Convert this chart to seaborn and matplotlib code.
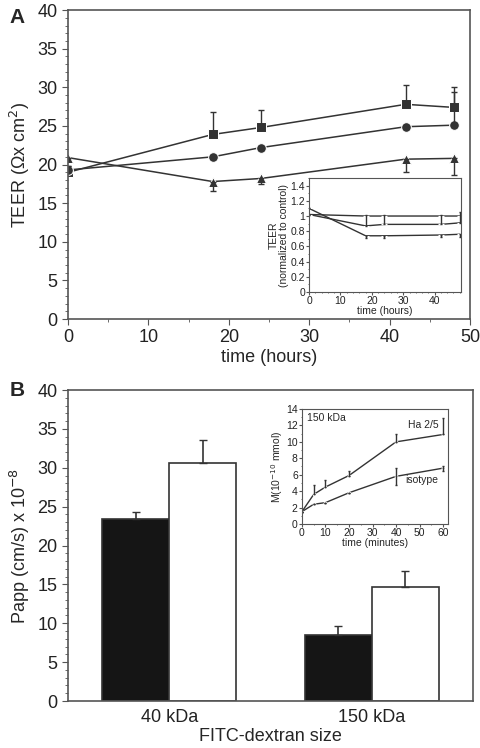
import numpy as np
import pandas as pd
import matplotlib
matplotlib.use("Agg")
import matplotlib.pyplot as plt
from matplotlib.ticker import MultipleLocator
import seaborn as sns

# ---- panel A: TEER over time
hours = [0, 18, 24, 42, 48]
teer_square = [19.0, 23.9, 24.8, 27.8, 27.4]
teer_square_err = [0.8, 2.9, 2.2, 2.5, 2.7]
teer_circle = [19.3, 21.0, 22.2, 24.9, 25.1]
teer_circle_err = [0.5, 0.0, 0.0, 0.0, 4.3]
teer_triangle = [20.9, 17.8, 18.2, 20.7, 20.8]
teer_triangle_err = [0.0, 1.2, 0.7, 1.7, 2.1]

# inset A: normalized TEER
norm_ctrl = [1.02, 1.0, 1.0, 1.0, 1.0]
norm_mid = [1.02, 0.87, 0.89, 0.89, 0.91]
norm_mid_err = [0.0, 0.14, 0.12, 0.12, 0.14]
norm_low = [1.1, 0.74, 0.74, 0.75, 0.76]
norm_low_err = [0.0, 0.03, 0.03, 0.03, 0.03]

# ---- panel B: permeability
sizes = ["40 kDa", "150 kDa"]
papp_black = [23.4, 8.5]
papp_black_err = [0.9, 1.2]
papp_white = [30.6, 14.7]
papp_white_err = [3.0, 2.0]

# inset B: cumulative mass
minutes = [0, 5, 10, 20, 40, 60]
mass_ha = [1.5, 3.6, 4.5, 5.9, 10.0, 10.9]
mass_ha_err = [0.0, 1.1, 0.8, 0.6, 1.0, 2.0]
mass_iso = [1.5, 2.4, 2.6, 3.8, 5.8, 6.8]
mass_iso_err = [0.0, 0.0, 0.0, 0.0, 1.0, 0.3]

sns.set_style("ticks")
plt.rcParams["font.family"] = ["Liberation Sans", "DejaVu Sans"]
plt.rcParams["axes.edgecolor"] = "#555555"
plt.rcParams["xtick.color"] = "#555555"
plt.rcParams["ytick.color"] = "#555555"
plt.rcParams["xtick.labelcolor"] = "#222222"
plt.rcParams["ytick.labelcolor"] = "#222222"

fig = plt.figure(figsize=(4.8, 7.48), dpi=100)
lc = "#333333"

# ================= A main
axA = fig.add_axes([0.1417, 0.5735, 0.8375, 0.413])
dfA = pd.DataFrame({
    "hours": hours * 3,
    "teer": teer_square + teer_circle + teer_triangle,
    "grp": ["sq"] * 5 + ["ci"] * 5 + ["tr"] * 5,
})
sns.lineplot(data=dfA, x="hours", y="teer", style="grp", markers={"sq": "s", "ci": "o", "tr": "^"},
             dashes=False, color=lc, markersize=7, linewidth=1.1, legend=False, ax=axA)
for y, e in [(teer_square, teer_square_err), (teer_circle, teer_circle_err)]:
    axA.errorbar(hours, y, yerr=[np.zeros(5), e], fmt="none", ecolor=lc, elinewidth=1, capsize=2.5)
axA.errorbar(hours, teer_triangle, yerr=[teer_triangle_err, np.zeros(5)], fmt="none",
             ecolor=lc, elinewidth=1, capsize=2.5)
axA.set_xlim(0, 50)
axA.set_ylim(0, 40)
axA.xaxis.set_major_locator(MultipleLocator(10))
axA.xaxis.set_minor_locator(MultipleLocator(5))
axA.yaxis.set_major_locator(MultipleLocator(5))
axA.yaxis.set_minor_locator(MultipleLocator(1))
axA.tick_params(labelsize=13, length=4)
axA.tick_params(which="minor", length=2)
axA.set_xlabel("time (hours)", fontsize=13, labelpad=2)
axA.set_ylabel("TEER (\u03a9x cm$^2$)", fontsize=13)
for s in axA.spines.values():
    s.set_linewidth(1.2)
fig.text(0.02, 0.977, "A", fontsize=15, fontweight="bold", ha="left", va="center")

# ================= A inset
axAi = fig.add_axes([0.644, 0.6096, 0.317, 0.1524])
dfAi = pd.DataFrame({
    "hours": hours * 3,
    "norm": norm_ctrl + norm_mid + norm_low,
    "grp": ["c"] * 5 + ["m"] * 5 + ["l"] * 5,
})
sns.lineplot(data=dfAi, x="hours", y="norm", units="grp", estimator=None, color=lc,
             marker="_", markersize=4, linewidth=1.0, ax=axAi)
axAi.errorbar(hours, norm_mid, yerr=[np.zeros(5), norm_mid_err], fmt="none", ecolor=lc, elinewidth=1, capsize=1)
axAi.errorbar(hours, norm_low, yerr=[norm_low_err, np.zeros(5)], fmt="none", ecolor=lc, elinewidth=1, capsize=1)
axAi.set_xlim(0, 48.5)
axAi.set_ylim(0, 1.5)
axAi.set_xticks([0, 10, 20, 30, 40])
axAi.set_yticks([0, 0.2, 0.4, 0.6, 0.8, 1, 1.2, 1.4])
axAi.set_yticklabels(["0", "0.2", "0.4", "0.6", "0.8", "1", "1.2", "1.4"])
axAi.xaxis.set_minor_locator(MultipleLocator(2))
axAi.yaxis.set_minor_locator(MultipleLocator(0.1))
axAi.tick_params(labelsize=7.5, length=2, pad=1)
axAi.tick_params(which="minor", length=1)
axAi.set_xlabel("time (hours)", fontsize=7.5, labelpad=0)
axAi.set_ylabel("TEER\n(normalized to control)", fontsize=7.5, labelpad=1, linespacing=1.0)

# ================= B main
axB = fig.add_axes([0.1417, 0.0628, 0.844, 0.4158])
dfB = pd.DataFrame({
    "size": sizes * 2,
    "papp": papp_black + papp_white,
    "trt": ["black"] * 2 + ["white"] * 2,
})
sns.barplot(data=dfB, x="size", y="papp", hue="trt", palette={"black": "#151515", "white": "white"},
            width=0.66, edgecolor="#333333", linewidth=1.2, legend=False, ax=axB)
errs = papp_black_err + papp_white_err
vals = papp_black + papp_white
for p, v, e in zip(axB.patches, vals, errs):
    cx = p.get_x() + p.get_width() / 2
    axB.errorbar([cx], [v], yerr=[[0], [e]], fmt="none", ecolor=lc, elinewidth=1.2, capsize=3)
axB.set_xlim(-0.5, 1.5)
axB.set_ylim(0, 40)
axB.yaxis.set_major_locator(MultipleLocator(5))
axB.yaxis.set_minor_locator(MultipleLocator(1))
axB.tick_params(labelsize=13, length=4)
axB.tick_params(which="minor", length=2)
axB.tick_params(axis="x", length=0, pad=6)
axB.set_xlabel("FITC-dextran size", fontsize=13, labelpad=1)
axB.set_ylabel("Papp (cm/s) x 10$^{-8}$", fontsize=13)
for s in axB.spines.values():
    s.set_linewidth(1.2)
fig.text(0.02, 0.478, "B", fontsize=15, fontweight="bold", ha="left", va="center")

# ================= B inset
axBi = fig.add_axes([0.629, 0.2995, 0.304, 0.1537])
dfBi = pd.DataFrame({
    "minutes": minutes * 2,
    "mass": mass_ha + mass_iso,
    "grp": ["ha"] * 6 + ["iso"] * 6,
})
sns.lineplot(data=dfBi, x="minutes", y="mass", units="grp", estimator=None, color=lc,
             marker="o", markersize=2, linewidth=1.0, ax=axBi)
axBi.errorbar(minutes, mass_ha, yerr=[np.zeros(6), mass_ha_err], fmt="none", ecolor=lc, elinewidth=1, capsize=1)
axBi.errorbar(minutes, mass_iso, yerr=[mass_iso_err, mass_iso_err], fmt="none", ecolor=lc, elinewidth=1, capsize=1)
axBi.set_xlim(0, 62)
axBi.set_ylim(0, 14)
axBi.set_xticks([0, 10, 20, 30, 40, 50, 60])
axBi.set_yticks(range(0, 15, 2))
axBi.xaxis.set_minor_locator(MultipleLocator(5))
axBi.yaxis.set_minor_locator(MultipleLocator(1))
axBi.tick_params(labelsize=7.5, length=2, pad=1)
axBi.tick_params(which="minor", length=1)
axBi.set_xlabel("time (minutes)", fontsize=7.5, labelpad=0)
axBi.set_ylabel("M(10$^{-10}$ mmol)", fontsize=7.5, labelpad=1)
axBi.text(2, 12.9, "150 kDa", fontsize=7.5, va="center")
axBi.text(58, 12.0, "Ha 2/5", fontsize=7.5, va="center", ha="right")
axBi.text(58, 5.4, "isotype", fontsize=7.5, va="center", ha="right")

fig.savefig("out.png", dpi=100)
